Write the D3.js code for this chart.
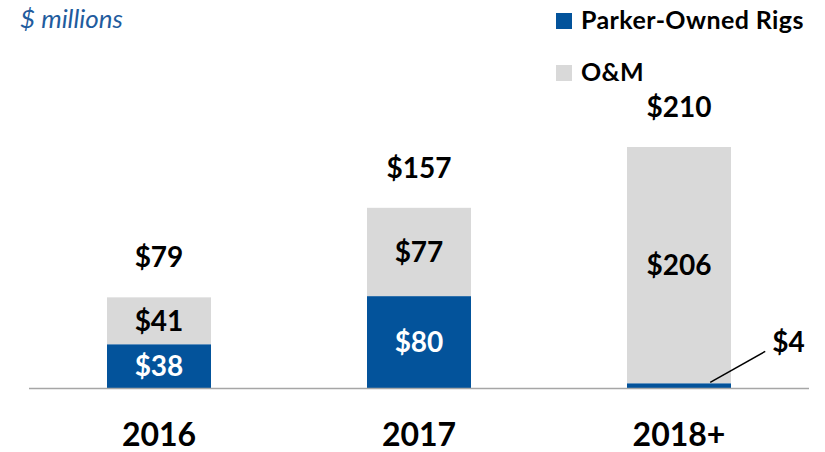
<!DOCTYPE html>
<html>
<head>
<meta charset="utf-8">
<script src="https://cdn.jsdelivr.net/npm/d3@7"></script>
<style>
  body { margin: 0; background: #fff; }
  text { font-family: Lato, "Open Sans", sans-serif; }
</style>
</head>
<body>
<script>
// values in $ millions
var years = ["2016", "2017", "2018+"];
var ownedRigs = [38, 80, 4];
var oAndM = [41, 77, 206];
var totals = [79, 157, 210];
var seriesNames = ["Parker-Owned Rigs", "O&M"];

var blue = "#03539b",
  grey = "#d9d9d9";

var width = 825,
  height = 452,
  baseY = 388;

var svg = d3.select("body").append("svg")
  .attr("width", width)
  .attr("height", height);

var xScale = d3.scaleBand()
  .domain(years)
  .range([29, 809])
  .paddingInner(0.6)
  .paddingOuter(0.3);

var yScale = d3.scaleLinear()
  .domain([0, 210])
  .range([baseY, 147]);

// stacked data
var stack = years.map(function(y, i) {
  return { year: y, owned: ownedRigs[i], om: oAndM[i], total: totals[i] };
});

// grey O&M segments
svg.selectAll("rect.om")
  .data(stack)
  .enter().append("rect")
  .attr("class", "om")
  .attr("x", function(d) { return xScale(d.year); })
  .attr("width", xScale.bandwidth())
  .attr("y", function(d) { return yScale(d.owned + d.om); })
  .attr("height", function(d) { return yScale(d.owned) - yScale(d.owned + d.om); })
  .style("fill", grey);

// blue owned segments
svg.selectAll("rect.owned")
  .data(stack)
  .enter().append("rect")
  .attr("class", "owned")
  .attr("x", function(d) { return xScale(d.year); })
  .attr("width", xScale.bandwidth())
  .attr("y", function(d) { return yScale(d.owned); })
  .attr("height", function(d) { return baseY - yScale(d.owned); })
  .style("fill", blue);

// baseline
svg.append("line")
  .attr("x1", 29).attr("x2", 809)
  .attr("y1", baseY + 0.5).attr("y2", baseY + 0.5)
  .style("stroke", "#a6a6a6")
  .style("stroke-width", 1.5);

// segment labels (not for the tiny $4)
svg.selectAll("text.owned")
  .data(stack.filter(function(d) { return d.owned > 20; }))
  .enter().append("text")
  .attr("class", "owned")
  .attr("x", function(d) { return xScale(d.year) + xScale.bandwidth() / 2; })
  .attr("y", function(d) { return yScale(d.owned / 2); })
  .attr("dy", "0.36em")
  .attr("text-anchor", "middle")
  .style("font-size", "28px").style("font-weight", "bold")
  .style("fill", "#fff")
  .text(function(d) { return "$" + d.owned; });

svg.selectAll("text.om")
  .data(stack)
  .enter().append("text")
  .attr("class", "om")
  .attr("x", function(d) { return xScale(d.year) + xScale.bandwidth() / 2; })
  .attr("y", function(d) { return yScale(d.owned + d.om / 2); })
  .attr("dy", "0.36em")
  .attr("text-anchor", "middle")
  .style("font-size", "28px").style("font-weight", "bold")
  .style("fill", "#000")
  .text(function(d) { return "$" + d.om; });

// totals
svg.selectAll("text.total")
  .data(stack)
  .enter().append("text")
  .attr("class", "total")
  .attr("x", function(d) { return xScale(d.year) + xScale.bandwidth() / 2; })
  .attr("y", function(d) { return yScale(d.total) - 30; })
  .attr("text-anchor", "middle")
  .style("font-size", "28px").style("font-weight", "bold")
  .style("fill", "#000")
  .text(function(d) { return "$" + d.total; });

// callout for the small 2018+ owned segment
var last = stack[2];
var lx = xScale(last.year) + xScale.bandwidth() * 0.8;
svg.append("line")
  .attr("x1", lx).attr("y1", yScale(last.owned) - 1)
  .attr("x2", lx + 55).attr("y2", yScale(last.owned) - 32)
  .style("stroke", "#000").style("stroke-width", 1.5);
svg.append("text")
  .attr("x", lx + 62)
  .attr("y", yScale(last.owned) - 31)
  .style("font-size", "28px").style("font-weight", "bold")
  .text("$" + last.owned);

// category labels
var xAxis = svg.append("g")
  .attr("transform", "translate(0," + baseY + ")")
  .call(d3.axisBottom(xScale).tickSize(0).tickPadding(0));
xAxis.select(".domain").remove();
xAxis.selectAll("text")
  .attr("dy", null)
  .attr("y", 58)
  .style("font-family", "Lato, sans-serif")
  .style("font-size", "32px").style("font-weight", "bold")
  .style("fill", "#000");

// units note
svg.append("text")
  .attr("x", 20).attr("y", 28)
  .style("font-size", "26px").style("font-style", "italic")
  .style("fill", "#1f5c9e")
  .text("$ millions");

// legend
var legend = svg.selectAll("g.legend")
  .data(seriesNames)
  .enter().append("g")
  .attr("class", "legend")
  .attr("transform", function(d, i) { return "translate(556," + (13 + i * 52) + ")"; });
legend.append("rect")
  .attr("width", 16).attr("height", 16)
  .style("fill", function(d, i) { return i == 0 ? blue : grey; });
legend.append("text")
  .attr("x", 25).attr("y", 16)
  .style("font-size", "25px").style("font-weight", "bold")
  .style("letter-spacing", "0.4px")
  .text(function(d) { return d; });
</script>
</body>
</html>
